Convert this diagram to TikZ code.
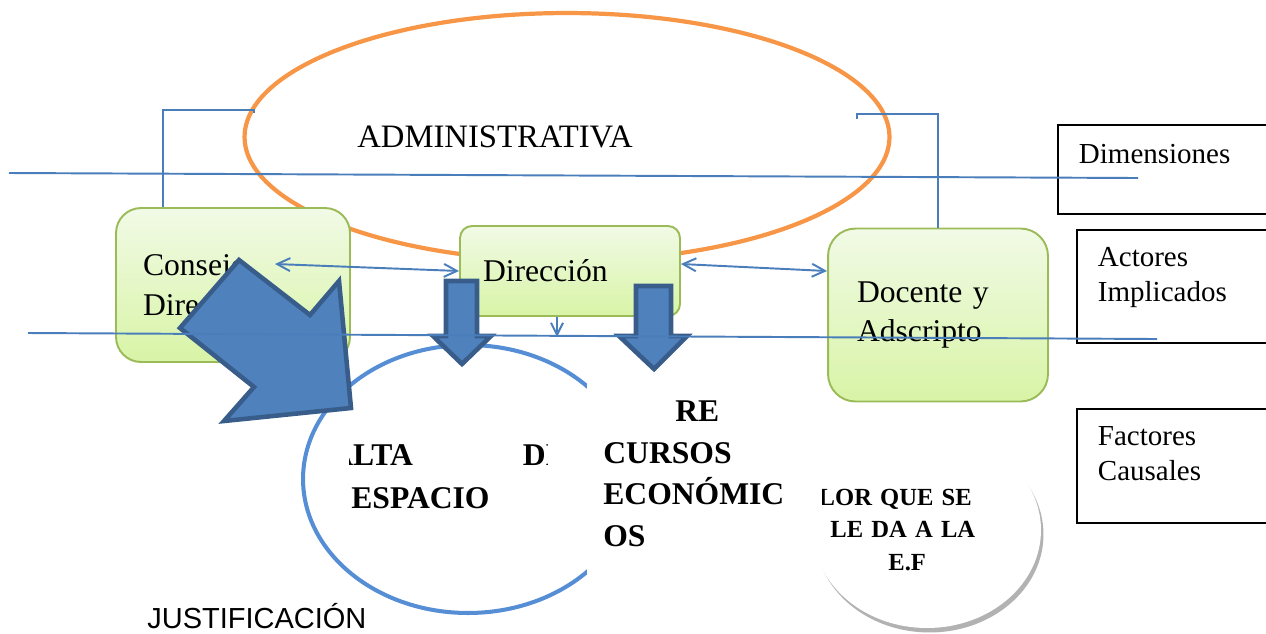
\documentclass[tikz,border=0pt]{standalone}
\usepackage{fontspec}
\setmainfont{Liberation Serif}
\newfontfamily\sansfont{Liberation Sans}
\usetikzlibrary{arrows.meta,shapes.geometric,shadows}
\definecolor{rimorange}{HTML}{F79646}
\definecolor{linkblue}{HTML}{4A7EBB}
\definecolor{ringblue}{HTML}{558ED5}
\definecolor{arrowfill}{HTML}{4F81BD}
\definecolor{arrowbd}{HTML}{385D8A}
\definecolor{actortop}{HTML}{F1FAE6}
\definecolor{actorbot}{HTML}{D8F4A6}
\definecolor{actorbd}{HTML}{9BBB59}
\tikzset{
  actor/.style={draw=actorbd,top color=actortop,bottom color=actorbot,
                line width=1.1pt,inner sep=0pt,align=left,
                font=\fontsize{18}{22.7}\selectfont},
  tag/.style={draw=black,fill=white,line width=1.1pt,anchor=north west,
              inner xsep=0.42cm,inner ysep=0pt,align=left,
              font=\fontsize{16.5}{19.8}\selectfont},
  link/.style={linkblue,line width=1.1pt},
  twoway/.style={link,{Straight Barb[length=2.6mm,width=2.6mm]}-{Straight Barb[length=2.6mm,width=2.6mm]}},
  oneway/.style={link,-{Straight Barb[length=2.4mm,width=2.4mm]}},
  blockarrow/.style={fill=arrowfill,draw=arrowbd,line width=2.6pt,line join=miter},
  factor/.style={inner sep=0pt,font=\fontsize{18}{23.8}\selectfont\bfseries},
}

\begin{document}
\begin{tikzpicture}[x=0.02cm,y=-0.02cm]
  \useasboundingbox (0,0) rectangle (1266,633);

  % dimension
  \node[ellipse,draw=rimorange,line width=2.4pt,inner sep=0pt,
        minimum width=12.9cm,minimum height=4.96cm] (admin) at (567,137) {};
  \node[anchor=base west,inner sep=0pt,font=\fontsize{18.6}{22}\selectfont]
        (admintxt) at (357,147) {ADMINISTRATIVA};
  \coordinate (admL) at (254,113);
  \coordinate (admR) at (857,119);

  % actors
  \node[actor,minimum width=4.68cm,minimum height=3.08cm,text width=3.6cm,
        rounded corners=0.5cm] (consejo) at (233,285) {Consejo\\Directivo};
  \node[actor,minimum width=4.4cm,minimum height=1.8cm,text width=3.48cm,
        rounded corners=0.24cm] (direccion) at (570,271) {Dirección};
  \node[actor,minimum width=4.4cm,minimum height=3.46cm,text width=3.24cm,
        rounded corners=0.55cm] (docente) at (938,315) {Docente y\\Adscripto};

  \draw[link] ([xshift=-1.4cm]consejo.north) |- ([yshift=0.06cm]admL) -- (admL);
  \draw[link] (docente.north) |- ([yshift=0.1cm]admR) -- (admR);

  \coordinate (cjhead) at (275,264);
  \coordinate (dirfoot) at (557,337);
  \draw[twoway] (cjhead) -- (direccion.west);
  \draw[twoway] ([yshift=0.14cm]direccion.east) -- ([yshift=0.88cm]docente.west);
  \draw[oneway] ([xshift=-0.26cm]direccion.south) -- (dirfoot);

  % causal factors
  \node[ellipse,draw=ringblue,line width=2.3pt,inner sep=0pt,
        minimum width=6.6cm,minimum height=5.36cm] (ring) at (468,479) {};
  \node[factor,fill=white,anchor=north west,text width=3.7cm,align=left,
        inner xsep=0.32cm,text height=0.84cm,text depth=3.06cm]
        (recursos) at (587,379) {\hspace*{1.44cm}RE\\CURSOS\\ECONÓMIC\\OS};
  \begin{scope}
    \clip (349,420) rectangle (547,530);
    \node[factor,anchor=base west] (falta) at (313,465) {FALTA\hspace{2.2cm}DE};
    \node[factor,anchor=base west] (espacio) at (351,508) {ESPACIO};
  \end{scope}

  \node[ellipse,fill=white,inner sep=0pt,minimum width=4.56cm,minimum height=3.92cm,
        drop shadow={shadow xshift=0.05cm,shadow yshift=-0.09cm,fill=black!60}]
        (valor) at (927,530) {};
  \begin{scope}
    \clip (822,470) rectangle (1045,600);
    \node[factor,anchor=north west,text width=4cm,align=left,text height=0.5cm,
          font=\fontsize{14}{18.4}\selectfont\bfseries]
          (valortxt) at (786,480) {VALOR QUE SE\\\hspace*{0.88cm}LE DA A LA\\\hspace*{2.04cm}E.F};
  \end{scope}

  \draw[blockarrow] (446,281) -- (477,281) -- (477,336) -- (491,336) -- (462,364)
                    -- (433,336) -- (446,336) -- cycle;
  \draw[blockarrow] (636,286) -- (671,286) -- (671,336) -- (687,336) -- (654,369)
                    -- (619,336) -- (636,336) -- cycle;
  \draw[blockarrow] (239,260) -- (310,315) -- (339,281) -- (351,408) -- (224,421)
                    -- (254,387) -- (180,328) -- cycle;

  % legend
  \node[tag,minimum width=4.22cm,text width=3.38cm,text height=0.78cm,
        text depth=1.0cm] (dimen) at (1057,124) {Dimensiones};
  \node[tag,minimum width=3.84cm,text width=3.0cm,text height=0.74cm,
        text depth=1.52cm] (actores) at (1076,229) {Actores\\Implicados};
  \node[tag,minimum width=3.84cm,text width=3.0cm,text height=0.74cm,
        text depth=1.54cm] (factores) at (1076,408) {Factores\\Causales};

  \coordinate (dimrowW) at (9,173);
  \coordinate (dimrowE) at (1138,178);
  \coordinate (actrowW) at (28,333);
  \coordinate (actrowE) at (1157,339);
  \draw[link] (dimrowW) -- (dimrowE);
  \draw[link] (actrowW) -- (actrowE);

  \node[anchor=base west,inner sep=0pt,font=\sansfont\fontsize{16.5}{20}\selectfont]
        (justif) at (147,628) {JUSTIFICACIÓN};
\end{tikzpicture}
\end{document}
